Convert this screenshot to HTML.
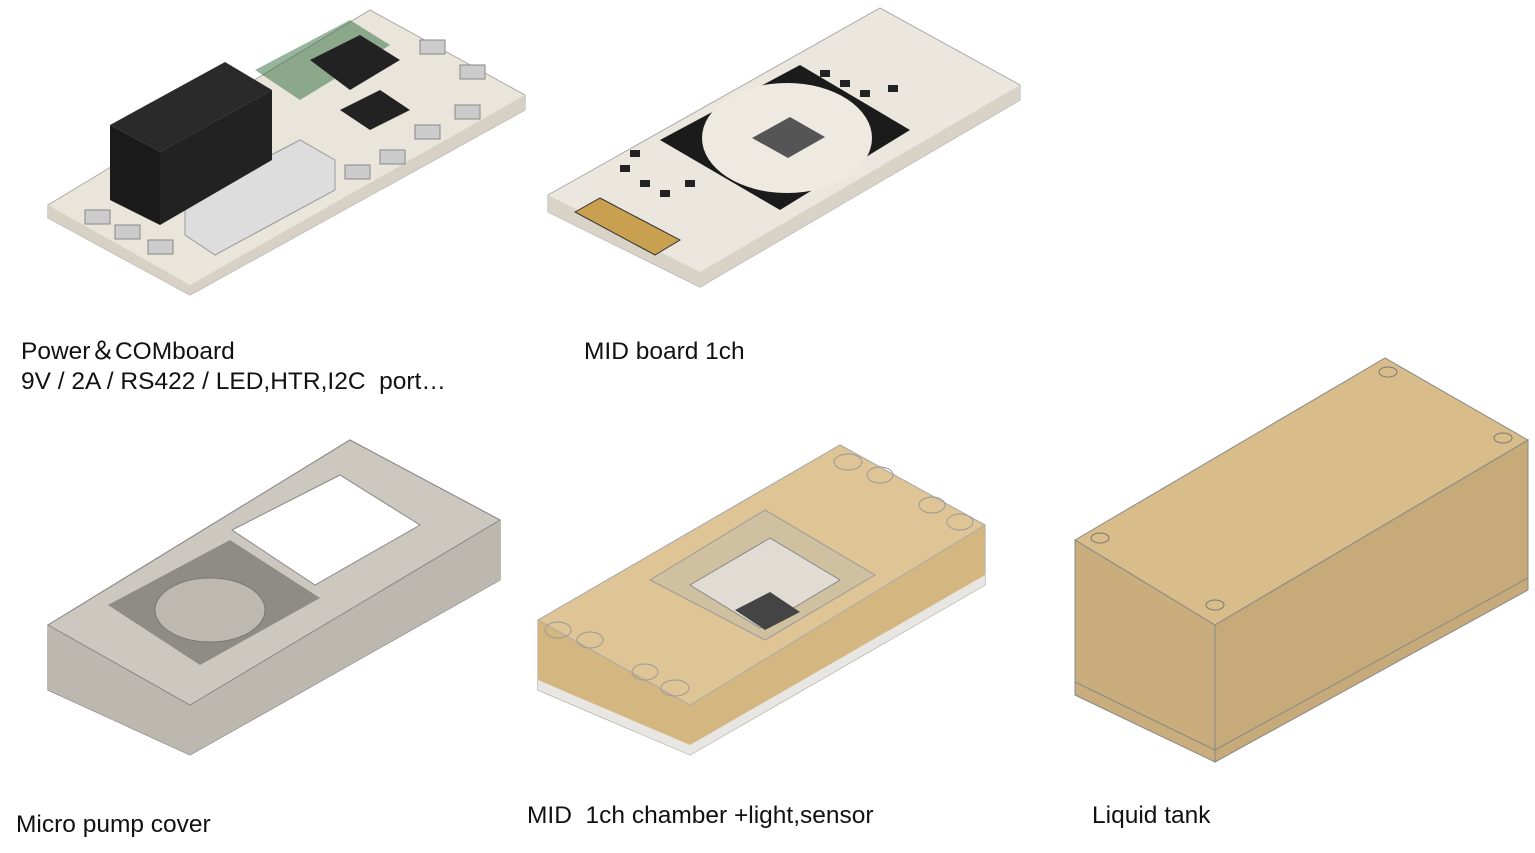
<!DOCTYPE html>
<html><head><meta charset="utf-8"><style>
html,body{margin:0;padding:0;background:#fff;width:1535px;height:853px;overflow:hidden}
.t{position:absolute;font-family:"Liberation Sans",sans-serif;font-size:24.5px;color:#111;line-height:30px;white-space:nowrap}
svg{position:absolute;left:0;top:0}
</style></head><body>
<svg width="1535" height="853" viewBox="0 0 1535 853">
<!-- Power board -->
<polygon points="48,205 370,10 525,95 525,110 190,295 48,218" fill="#e9e5da" stroke="#aaa"/>
<polygon points="48,205 190,285 525,95 525,110 190,295 48,218" fill="#d6d1c4"/>
<polygon points="255,70 350,20 390,45 300,100" fill="#2f6b3a" opacity="0.5"/>
<polygon points="310,60 360,35 400,60 350,90" fill="#222"/>
<polygon points="340,110 380,90 410,110 370,130" fill="#222"/>
<polygon points="185,200 300,140 335,160 335,190 215,255 185,235" fill="#ddd" stroke="#999"/>
<polygon points="110,125 225,62 272,90 160,152" fill="#2a2a2a"/>
<polygon points="110,125 160,152 160,225 110,200" fill="#1a1a1a"/>
<polygon points="160,152 272,90 272,160 160,225" fill="#222"/>
<g fill="#ccc" stroke="#888"><rect x="85" y="210" width="25" height="14"/><rect x="115" y="225" width="25" height="14"/><rect x="148" y="240" width="25" height="14"/><rect x="345" y="165" width="25" height="14"/><rect x="380" y="150" width="25" height="14"/><rect x="415" y="125" width="25" height="14"/><rect x="455" y="105" width="25" height="14"/><rect x="420" y="40" width="25" height="14"/><rect x="460" y="65" width="25" height="14"/></g>
<!-- MID board -->
<polygon points="548,195 880,8 1020,85 1020,100 700,287 548,212" fill="#ebe7de" stroke="#aaa"/>
<polygon points="548,195 700,272 1020,85 1020,100 700,287 548,212" fill="#d8d3c6"/>
<polygon points="660,140 800,65 910,130 780,210" fill="#1b1b1b"/>
<ellipse cx="787" cy="138" rx="85" ry="55" fill="#eeeae2"/>
<polygon points="752,138 790,117 825,137 788,158" fill="#555"/>
<polygon points="575,212 600,198 680,240 655,255" fill="#c8a050" stroke="#333"/>
<g fill="#222"><rect x="820" y="70" width="10" height="7"/><rect x="840" y="80" width="10" height="7"/><rect x="860" y="90" width="10" height="7"/><rect x="888" y="85" width="10" height="7"/><rect x="620" y="165" width="10" height="7"/><rect x="640" y="180" width="10" height="7"/><rect x="660" y="190" width="10" height="7"/><rect x="685" y="180" width="10" height="7"/><rect x="630" y="150" width="10" height="7"/></g>
<!-- Pump cover -->
<polygon points="48,625 350,440 500,520 500,580 190,755 48,690" fill="#a9a59d" stroke="#777"/>
<polygon points="48,625 190,705 500,520 500,580 190,755 48,690" fill="#bcb8b0"/>
<polygon points="48,625 350,440 500,520 190,705" fill="#ccc8c0" stroke="#888"/>
<polygon points="108,605 230,540 320,598 200,665" fill="#8f8c86"/>
<ellipse cx="210" cy="610" rx="55" ry="32" fill="#bdb9b1" stroke="#777"/>
<polygon points="232,530 340,475 420,525 315,585" fill="#fff" stroke="#888"/>
<!-- Chamber -->
<polygon points="538,620 840,445 985,525 985,585 690,755 538,690" fill="#d8bd8a" stroke="#999"/>
<polygon points="538,620 690,705 985,525 985,585 690,755 538,690" fill="#d4b680"/>
<polygon points="538,680 690,745 985,575 985,585 690,755 538,690" fill="#e8e6e2"/>
<polygon points="538,620 840,445 985,525 690,705" fill="#dfc596" stroke="#aaa"/>
<polygon points="650,580 765,510 875,575 765,640" fill="#cfc0a0" stroke="#999"/>
<polygon points="690,585 770,538 840,580 760,628" fill="#e0dcd4" stroke="#888"/>
<polygon points="735,610 770,592 800,612 765,630" fill="#444"/>
<g fill="none" stroke="#999"><ellipse cx="848" cy="462" rx="14" ry="8"/><ellipse cx="880" cy="475" rx="13" ry="8"/><ellipse cx="932" cy="505" rx="13" ry="8"/><ellipse cx="960" cy="522" rx="13" ry="8"/><ellipse cx="558" cy="630" rx="13" ry="8"/><ellipse cx="590" cy="640" rx="13" ry="8"/><ellipse cx="645" cy="672" rx="13" ry="8"/><ellipse cx="675" cy="688" rx="14" ry="8"/></g>
<!-- Tank -->
<polygon points="1075,540 1385,358 1528,440 1215,625" fill="#d8bd8b" stroke="#888"/>
<polygon points="1075,540 1215,625 1215,762 1075,695" fill="#c9ad7c" stroke="#888"/>
<polygon points="1215,625 1528,440 1528,590 1215,762" fill="#c6aa79" stroke="#888"/>
<polyline points="1075,682 1215,750 1528,578" fill="none" stroke="#888"/>
<g fill="none" stroke="#777"><ellipse cx="1100" cy="538" rx="9" ry="5"/><ellipse cx="1388" cy="372" rx="9" ry="5"/><ellipse cx="1503" cy="438" rx="9" ry="5"/><ellipse cx="1215" cy="605" rx="9" ry="5"/></g>
</svg>
<div class="t" style="left:21px;top:337px">Power＆COMboard<br>9V / 2A / RS422 / LED,HTR,I2C&nbsp;&nbsp;port…</div>
<div class="t" style="left:584px;top:337px">MID board 1ch</div>
<div class="t" style="left:16px;top:810px">Micro pump cover</div>
<div class="t" style="left:527px;top:801px">MID&nbsp;&nbsp;1ch chamber +light,sensor</div>
<div class="t" style="left:1092px;top:801px">Liquid tank</div>
</body></html>
